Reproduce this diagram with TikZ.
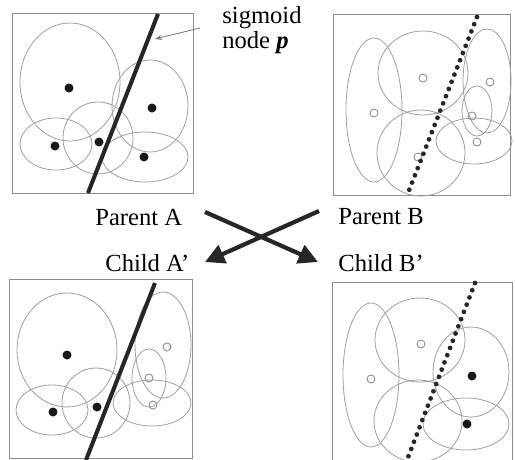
\documentclass[tikz,border=0pt]{standalone}
\usepackage{fontspec}
\setmainfont{Liberation Serif}
\usetikzlibrary{arrows.meta}
\tikzset{
  circ/.style={draw=black!38, line width=0.45pt},
  panel/.style={draw=black!45, line width=0.5pt},
  hit/.style={fill=black!90},
  miss/.style={draw=black!45, line width=0.5pt},
  cut/.style={line width=2.3pt, draw=black!85},
  dotcut/.style={line width=2.7pt, draw=black!85, line cap=round, dash pattern=on 0pt off 4.4pt},
  lbl/.style={font=\fontsize{14}{16}\selectfont, inner sep=0pt, anchor=west},
  swap/.style={line width=2.4pt, draw=black!85, -{Triangle[length=11pt,width=11pt]}},
  pointer/.style={draw=black!50, line width=0.5pt, -{Stealth[length=4pt,width=3pt]}}
}
\begin{document}
\begin{tikzpicture}[x=0.02cm, y=-0.02cm]
    \useasboundingbox (0,0) rectangle (515,460);

    % parent A
    \draw[panel] (12,13) rectangle (193,193);
    \draw[circ] (70,82) ellipse [x radius=50, y radius=59];
    \draw[circ] (150,106) ellipse [x radius=38, y radius=46];
    \draw[circ] (56,144) ellipse [x radius=36, y radius=26];
    \draw[circ] (98,138) ellipse [x radius=35, y radius=36];
    \draw[circ] (145,157) ellipse [x radius=43, y radius=25];
    \foreach \p in {(69,88),(152,108),(55,146),(99,142),(144,157)}
        \fill[hit] \p circle [radius=4.5];
    \draw[cut] (158,14) -- (88,193);

    \node[lbl] (sigtop) at (222,18) {sigmoid};
    \node[lbl] (sigbot) at (222,43) {node \textbf{\textit{p}}};
    \coordinate (ptr) at (200,28);
    \coordinate (ptrtip) at (155,39);
    \draw[pointer] (ptr) -- (ptrtip);

    % parent B
    \draw[panel] (333,14) rectangle (510,195);
    \draw[circ] (374,110) ellipse [x radius=28, y radius=72];
    \draw[circ] (423,73) ellipse [x radius=45, y radius=42];
    \draw[circ] (421,153) ellipse [x radius=44, y radius=43];
    \draw[circ] (487,81) ellipse [x radius=24, y radius=52];
    \draw[circ] (477,111) ellipse [x radius=15, y radius=25];
    \draw[circ] (474,141) ellipse [x radius=38, y radius=23];
    \foreach \p in {(423,78),(374,113),(490,82),(472,116),(477,142),(418,157)}
        \draw[miss] \p circle [radius=4];
    \draw[dotcut] (477,17) -- (408,193);

    % crossover
    \node[lbl] (parA) at (95,217) {Parent A};
    \node[lbl] (parB) at (338,217) {Parent B};
    \node[lbl] (chA) at (105,263) {Child A'};
    \node[lbl] (chB) at (338,263) {Child B'};
    \coordinate (pa) at (205,212);
    \coordinate (pb) at (319,211);
    \coordinate (ca) at (205,262);
    \coordinate (cb) at (318,262);
    \draw[swap] (pa) -- (cb);
    \draw[swap] (pb) -- (ca);

    % child A'
    \draw[panel] (9,279) rectangle (192,458);
    \draw[circ] (67,350) ellipse [x radius=50, y radius=57];
    \draw[circ] (52,410) ellipse [x radius=36, y radius=25];
    \draw[circ] (96,403) ellipse [x radius=34, y radius=35];
    \draw[circ] (163,345) ellipse [x radius=28, y radius=53];
    \draw[circ] (149,378) ellipse [x radius=17, y radius=29];
    \draw[circ] (152,403) ellipse [x radius=39, y radius=23];
    \foreach \p in {(67,355),(53,412),(97,407)}
        \fill[hit] \p circle [radius=4.5];
    \foreach \p in {(167,347),(149,378),(153,405)}
        \draw[miss] \p circle [radius=4];
    \draw[cut] (155,283) -- (86,460);

    % child B'
    \draw[panel] (332,282) rectangle (512,460);
    \draw[circ] (371,375) ellipse [x radius=28, y radius=72];
    \draw[circ] (420,340) ellipse [x radius=45, y radius=42];
    \draw[circ] (418,421) ellipse [x radius=44, y radius=41];
    \draw[circ] (471,372) ellipse [x radius=38, y radius=45];
    \draw[circ] (466,424) ellipse [x radius=43, y radius=26];
    \foreach \p in {(421,344),(371,379)}
        \draw[miss] \p circle [radius=4];
    \foreach \p in {(472,376),(467,424)}
        \fill[hit] \p circle [radius=4.5];
    \draw[dotcut] (475,283) -- (407,460);
\end{tikzpicture}
\end{document}
